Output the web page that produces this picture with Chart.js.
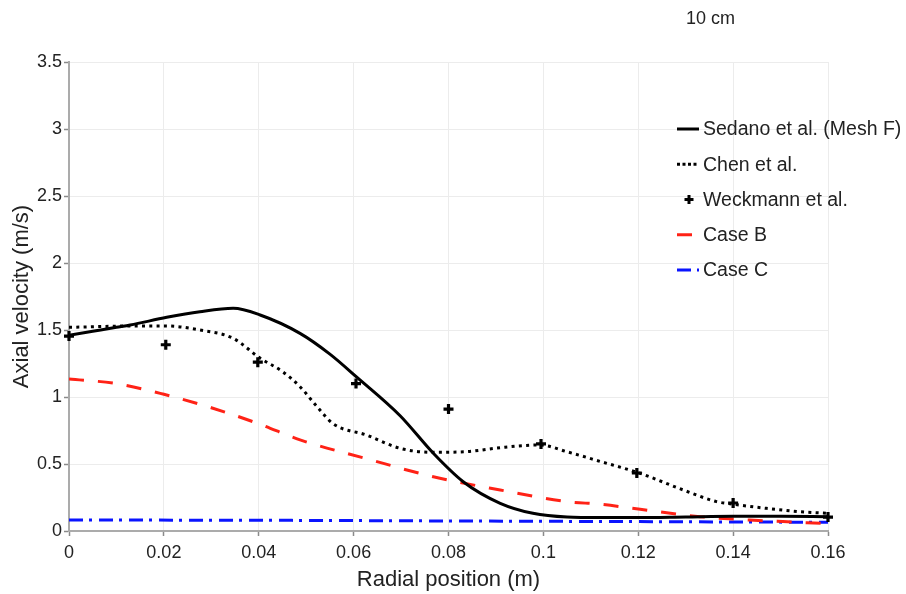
<!DOCTYPE html>
<html>
<head>
<meta charset="utf-8">
<script src="https://cdn.jsdelivr.net/npm/chart.js@4/dist/chart.umd.min.js"></script>
<style>
  html, body { margin: 0; padding: 0; background: #fff; }
  #wrap { width: 906px; height: 594px; position: relative; }
</style>
</head>
<body>
<div id="wrap"><canvas id="c" width="906" height="594"></canvas></div>
<script>
// Radial profiles of axial velocity (m/s) against radial position (m)
const sedanoR = [0, 0.005, 0.01, 0.0129, 0.0206, 0.0276, 0.0346, 0.0403, 0.0487, 0.055, 0.0606, 0.0698, 0.0768, 0.0831, 0.0909, 0.0978, 0.105, 0.112, 0.12, 0.13, 0.14, 0.15, 0.16];
const sedanoV = [1.46, 1.49, 1.52, 1.537, 1.595, 1.637, 1.662, 1.612, 1.475, 1.32, 1.15, 0.86, 0.58, 0.368, 0.207, 0.132, 0.104, 0.10, 0.10, 0.105, 0.11, 0.11, 0.107];

const chenR = [0, 0.0136, 0.0206, 0.0276, 0.0346, 0.0403, 0.045, 0.0487, 0.052, 0.0557, 0.0627, 0.0698, 0.0768, 0.0838, 0.0909, 0.0993, 0.1049, 0.1119, 0.1204, 0.1295, 0.1365, 0.14, 0.147, 0.154, 0.16];
const chenV = [1.52, 1.53, 1.53, 1.50, 1.438, 1.289, 1.19, 1.077, 0.94, 0.80, 0.716, 0.617, 0.587, 0.592, 0.622, 0.642, 0.592, 0.52, 0.43, 0.306, 0.219, 0.20, 0.169, 0.144, 0.132];

const weckmannR = [0, 0.0204, 0.0398, 0.0605, 0.080, 0.0995, 0.1197, 0.140, 0.16];
const weckmannV = [1.455, 1.39, 1.26, 1.10, 0.91, 0.65, 0.433, 0.209, 0.104];

const caseBR = [0, 0.01, 0.02, 0.03, 0.04, 0.0487, 0.0627, 0.0768, 0.0909, 0.105, 0.112, 0.1204, 0.133, 0.1435, 0.1505, 0.16];
const caseBV = [1.134, 1.10, 1.02, 0.92, 0.80, 0.68, 0.54, 0.405, 0.306, 0.219, 0.20, 0.162, 0.107, 0.082, 0.07, 0.055];

const caseCR = [0, 0.04, 0.08, 0.12, 0.16];
const caseCV = [0.082, 0.08, 0.075, 0.07, 0.065];

const xTicks = [0, 0.02, 0.04, 0.06, 0.08, 0.1, 0.12, 0.14, 0.16];
const yTicks = [0, 0.5, 1, 1.5, 2, 2.5, 3, 3.5];

const seriesNames = ['Sedano et al. (Mesh F)', 'Chen et al.', 'Weckmann et al.', 'Case B', 'Case C'];
const topNote = '10 cm';

const RED = 'rgb(255,34,22)';
const BLUE = 'rgb(10,20,255)';
const TEXT = '#222';
const FONT = "'Liberation Sans', Arial, sans-serif";

const pts = (xs, ys) => xs.map((x, i) => ({ x, y: ys[i] }));

// Legend entries drawn by hand so dash patterns show correctly
const legendItems = [
  { label: seriesNames[0], kind: 'line', color: '#000', dash: [], len: 22 },
  { label: seriesNames[1], kind: 'line', color: '#000', dash: [3, 2.5], len: 22 },
  { label: seriesNames[2], kind: 'cross', color: '#000' },
  { label: seriesNames[3], kind: 'line', color: RED, dash: [], len: 15 },
  { label: seriesNames[4], kind: 'line', color: BLUE, dash: [14, 6, 3, 7], len: 22 }
];

const sideLegend = {
  id: 'sideLegend',
  afterDraw(chart) {
    const ctx = chart.ctx;
    ctx.save();
    ctx.font = `19.5px ${FONT}`;
    ctx.textBaseline = 'middle';
    ctx.fillStyle = TEXT;
    const x0 = 677, tx = 703, y0 = 129, dy = 35.25;
    legendItems.forEach((it, i) => {
      const y = y0 + i * dy;
      if (it.kind === 'line') {
        ctx.beginPath();
        ctx.setLineDash(it.dash);
        ctx.lineWidth = 3;
        ctx.strokeStyle = it.color;
        ctx.moveTo(x0, y);
        ctx.lineTo(x0 + it.len, y);
        ctx.stroke();
        ctx.setLineDash([]);
      } else {
        ctx.beginPath();
        ctx.lineWidth = 3;
        ctx.strokeStyle = it.color;
        ctx.moveTo(689 - 4.5, y); ctx.lineTo(689 + 4.5, y);
        ctx.moveTo(689, y - 4.5); ctx.lineTo(689, y + 4.5);
        ctx.stroke();
      }
      ctx.fillStyle = TEXT;
      ctx.fillText(it.label, tx, y + 1);
    });
    ctx.font = `18px ${FONT}`;
    ctx.fillText(topNote, 686, 19);
    ctx.restore();
  }
};

new Chart(document.getElementById('c'), {
  type: 'line',
  data: {
    datasets: [
      {
        label: seriesNames[2], data: pts(weckmannR, weckmannV), showLine: false,
        pointStyle: 'cross', pointRadius: 5, pointBorderWidth: 3.2,
        pointBorderColor: '#000', borderColor: '#000', clip: false, order: 0
      },
      {
        label: seriesNames[0], data: pts(sedanoR, sedanoV), borderColor: '#000',
        borderWidth: 3, pointRadius: 0, cubicInterpolationMode: 'monotone', order: 1
      },
      {
        label: seriesNames[1], data: pts(chenR, chenV), borderColor: '#000',
        borderWidth: 3, borderDash: [3, 4.3], pointRadius: 0, cubicInterpolationMode: 'monotone', order: 2
      },
      {
        label: seriesNames[3], data: pts(caseBR, caseBV), borderColor: RED,
        borderWidth: 3, borderDash: [15, 14], pointRadius: 0, cubicInterpolationMode: 'monotone', order: 3
      },
      {
        label: seriesNames[4], data: pts(caseCR, caseCV), borderColor: BLUE,
        borderWidth: 3, borderDash: [14, 6, 3, 7], pointRadius: 0, cubicInterpolationMode: 'monotone', order: 4
      }
    ]
  },
  options: {
    responsive: false,
    animation: false,
    layout: { padding: { left: 0, right: 78, top: 62, bottom: 0 } },
    plugins: { legend: { display: false }, tooltip: { enabled: false } },
    scales: {
      x: {
        type: 'linear', min: 0, max: 0.16,
        afterFit: s => { s.height = 63; },
        afterBuildTicks: s => { s.ticks = xTicks.map(v => ({ value: v })); },
        ticks: {
          color: TEXT, font: { family: FONT, size: 18 }, padding: 6, maxRotation: 0,
          callback: v => String(+v.toFixed(2))
        },
        grid: { color: '#ececec', lineWidth: 1, tickLength: 5, tickColor: '#8a8a8a', tickWidth: 1.5 },
        border: { color: '#ababab', width: 2 },
        title: {
          display: true, text: 'Radial position (m)', color: TEXT,
          font: { family: FONT, size: 22 }, padding: { top: 0, bottom: 1 }
        }
      },
      y: {
        type: 'linear', min: 0, max: 3.5,
        afterFit: s => { s.width = 69; },
        afterBuildTicks: s => { s.ticks = yTicks.map(v => ({ value: v })); },
        ticks: {
          color: TEXT, font: { family: FONT, size: 18 }, padding: 2,
          callback: v => String(v)
        },
        grid: { color: '#ececec', lineWidth: 1, tickLength: 5, tickColor: '#8a8a8a', tickWidth: 1.5 },
        border: { color: '#ababab', width: 2 },
        title: {
          display: true, text: 'Axial velocity (m/s)', color: TEXT,
          font: { family: FONT, size: 22 }, padding: { top: 9, bottom: 0 }
        }
      }
    }
  },
  plugins: [sideLegend]
});
</script>
</body>
</html>
